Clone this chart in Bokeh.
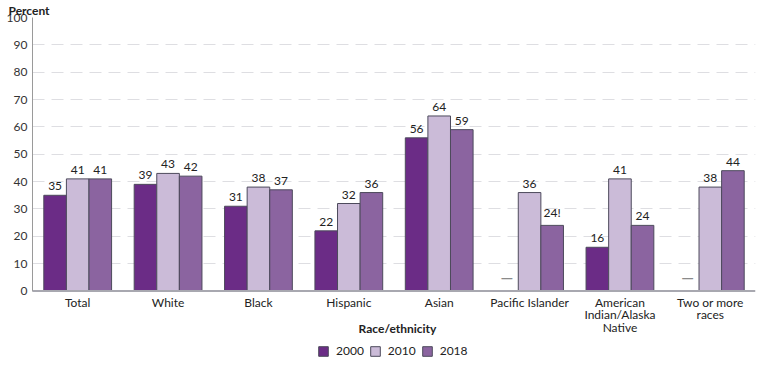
from bokeh.plotting import figure
from bokeh.models import (ColumnDataSource, FactorRange, Range1d, Legend,
                          LegendItem, FixedTicker, Span, Label)
from bokeh.transform import dodge
from bokeh.core.properties import value
from bokeh.embed import file_html
from bokeh.resources import INLINE

categories = ["Total", "White", "Black", "Hispanic", "Asian", "Pacific Islander",
              "American Indian/Alaska Native", "Two or more races"]
tick_labels = ["Total", "White", "Black", "Hispanic", "Asian", "Pacific Islander",
               "American\nIndian/Alaska\nNative", "Two or more\nraces"]
years = ["2000", "2010", "2018"]
v2000 = [35, 39, 31, 22, 56, None, 16, None]
v2010 = [41, 43, 38, 32, 64, 36, 41, 38]
v2018 = [41, 42, 37, 36, 59, 24, 24, 44]
flags2018 = ["", "", "", "", "", "!", "", ""]
colors = ["#6b2c86", "#cbbbd8", "#8b64a0"]
y_ticks = [0, 10, 20, 30, 40, 50, 60, 70, 80, 90, 100]
y_title = "Percent"
x_title = "Race/ethnicity"

FONT = "Lato"

# frame runs from the title down to the bottom of the canvas; the area below
# zero holds the category labels, the axis title and the legend
p = figure(width=774, height=375, x_range=FactorRange(*categories),
           y_range=Range1d(-30.88, 100), output_backend="svg",
           toolbar_location=None, x_axis_location=None,
           min_border_left=32, min_border_right=19, min_border_top=0,
           min_border_bottom=0, outline_line_color=None, title=y_title)

p.title.text_font = FONT
p.title.text_font_size = "12px"
p.title.text_font_style = "bold"
p.title.text_color = "#222222"
p.title.align = "left"
p.title.offset = -24
p.title.standoff = 0

series = [v2000, v2010, v2018]
offsets = [-0.25, 0.0, 0.25]
renderers = []
for i, vals in enumerate(series):
    cats = [c for c, v in zip(categories, vals) if v is not None]
    vs = [v for v in vals if v is not None]
    if i == 2:
        labels = [f"{v}{f}" for v, f in zip(vals, flags2018) if v is not None]
    else:
        labels = [f"{v}" for v in vs]
    src = ColumnDataSource(dict(cat=cats, val=vs, lab=labels))
    r = p.vbar(x=dodge("cat", offsets[i], range=p.x_range), top="val", width=0.25,
               bottom=0, source=src, fill_color=colors[i], line_color="#4d4a5c",
               line_width=1)
    renderers.append(r)
    p.text(x=dodge("cat", offsets[i], range=p.x_range), y="val", text="lab",
           source=src, text_align="center", text_baseline="bottom", y_offset=-5,
           text_font=value(FONT), text_font_size="12px", text_color="#222222")
    missing = [c for c, v in zip(categories, vals) if v is None]
    if missing:
        msrc = ColumnDataSource(dict(cat=missing, y=[0] * len(missing),
                                     lab=["\u2014"] * len(missing)))
        p.text(x=dodge("cat", offsets[i], range=p.x_range), y="y", text="lab",
               source=msrc, text_align="center", text_baseline="bottom",
               y_offset=-5, text_font=value(FONT), text_font_size="16px",
               text_font_style="bold", text_color="#8a8a8a")

# category labels under the baseline
csrc = ColumnDataSource(dict(cat=categories, y=[0] * len(categories), lab=tick_labels))
p.text(x="cat", y="y", text="lab", source=csrc, text_align="center",
       text_baseline="top", y_offset=4, text_line_height=0.82,
       text_font=value(FONT), text_font_size="12px", text_color="#222222")

# baseline (x axis line)
p.add_layout(Span(location=0, dimension="width", line_color="#a8a8b0", line_width=2))

# y axis
p.yaxis.ticker = FixedTicker(ticks=y_ticks)
p.yaxis.bounds = (0, 100)
p.yaxis.axis_line_color = "#9a9a9a"
p.yaxis.major_tick_line_color = None
p.yaxis.major_tick_out = 0
p.yaxis.minor_tick_line_color = None
p.yaxis.major_label_text_font = FONT
p.yaxis.major_label_text_font_size = "12px"
p.yaxis.major_label_text_color = "#333333"
p.yaxis.major_label_standoff = 5

p.xgrid.grid_line_color = None
p.ygrid.ticker = FixedTicker(ticks=y_ticks[1:])
p.ygrid.grid_line_color = "#dedee2"
p.ygrid.grid_line_dash = "12 7"
p.ygrid.grid_line_width = 1

p.add_layout(Label(x=365, y=47, x_units="screen", y_units="screen",
                   text=x_title, text_align="center", text_baseline="middle",
                   text_font=FONT, text_font_size="12px", text_font_style="bold",
                   text_color="#222222"))

legend = Legend(items=[LegendItem(label=y, renderers=[r]) for y, r in zip(years, renderers)],
                orientation="horizontal", location=(285, 17),
                background_fill_alpha=0, border_line_color=None,
                label_text_font=FONT, label_text_font_size="12px",
                label_text_color="#222222", glyph_width=12, glyph_height=12,
                spacing=5, label_standoff=7, padding=0, margin=0)
p.add_layout(legend, "center")

open("out.html", "w").write(file_html(p, INLINE))
